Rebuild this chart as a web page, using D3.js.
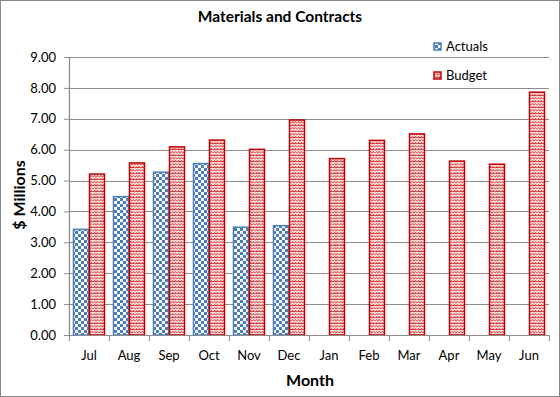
<!DOCTYPE html>
<html>
<head>
<meta charset="utf-8">
<script src="https://cdn.jsdelivr.net/npm/d3@7"></script>
<style>
  body { margin: 0; background: #fff; }
  text { font-family: Lato, "Open Sans", sans-serif; fill: #000; }
</style>
</head>
<body>
<div id="chart"></div>
<script>
const containerWidth = 560;
const containerHeight = 397;

// data
const months = ["Jul", "Aug", "Sep", "Oct", "Nov", "Dec", "Jan", "Feb", "Mar", "Apr", "May", "Jun"];
const actuals = [3.42, 4.48, 5.27, 5.55, 3.49, 3.54, null, null, null, null, null, null];
const budget = [5.21, 5.57, 6.09, 6.31, 6.01, 6.96, 5.71, 6.30, 6.51, 5.63, 5.53, 7.86];
const seriesNames = ["Actuals", "Budget"];
const yTicks = [0, 1, 2, 3, 4, 5, 6, 7, 8, 9];

const svg = d3.select("#chart")
  .append('svg')
  .attr('width', containerWidth)
  .attr('height', containerHeight);

// patterns
const defs = svg.append('defs');
const checker = defs.append('pattern')
  .attr('id', 'checker')
  .attr('width', 6).attr('height', 6)
  .attr('patternUnits', 'userSpaceOnUse');
checker.append('rect').attr('width', 6).attr('height', 6).attr('fill', '#fff');
checker.append('rect').attr('width', 3).attr('height', 3).attr('fill', '#4a7ebb');
checker.append('rect').attr('x', 3).attr('y', 3).attr('width', 3).attr('height', 3).attr('fill', '#4a7ebb');

const weave = defs.append('pattern')
  .attr('id', 'weave')
  .attr('width', 6).attr('height', 6)
  .attr('patternUnits', 'userSpaceOnUse');
weave.append('rect').attr('width', 6).attr('height', 6).attr('fill', '#d93a3a');
weave.append('path')
  .attr('d', 'M0,1.5 L1.5,0 L3,1.5 L4.5,0 L6,1.5 M0,4.5 L1.5,3 L3,4.5 L4.5,3 L6,4.5')
  .attr('stroke', '#fbe4e4').attr('stroke-width', 1.5).attr('fill', 'none');

// outer border
svg.append('rect')
  .attr('x', 0.5).attr('y', 0.5)
  .attr('width', containerWidth - 1).attr('height', containerHeight - 1)
  .attr('fill', 'none').attr('stroke', '#888');

const margin = {left: 69, right: 11, top: 57, bottom: 62};
const plotW = containerWidth - margin.left - margin.right;
const plotH = containerHeight - margin.top - margin.bottom;

const scaleX = d3.scaleBand().domain(months).range([margin.left, margin.left + plotW]);
const scaleInner = d3.scaleBand().domain(seriesNames)
  .range([0, scaleX.bandwidth()]).paddingOuter(0.25).paddingInner(0);
const scaleY = d3.scaleLinear().domain([0, 9]).range([margin.top + plotH, margin.top]);

// gridlines
svg.append('g')
  .selectAll('line')
  .data(yTicks.slice(1))
  .enter()
  .append('line')
  .attr('x1', margin.left).attr('x2', margin.left + plotW)
  .attr('y1', d => Math.round(scaleY(d)) + 0.5)
  .attr('y2', d => Math.round(scaleY(d)) + 0.5)
  .attr('stroke', '#8c8c8c').attr('stroke-width', 1.2);

// bars
const fills = {Actuals: 'url(#checker)', Budget: 'url(#weave)'};
const strokes = {Actuals: '#4a7ebb', Budget: '#c00000'};
const rows = [];
months.forEach((m, i) => {
  if (actuals[i] != null) rows.push({month: m, series: 'Actuals', value: actuals[i]});
  rows.push({month: m, series: 'Budget', value: budget[i]});
});

svg.append('g')
  .selectAll('rect')
  .data(rows)
  .enter()
  .append('rect')
  .attr('x', d => scaleX(d.month) + scaleInner(d.series) + 0.5)
  .attr('y', d => scaleY(d.value))
  .attr('width', scaleInner.bandwidth() - 1)
  .attr('height', d => scaleY(0) - scaleY(d.value))
  .attr('fill', d => fills[d.series])
  .attr('stroke', d => strokes[d.series])
  .attr('stroke-width', 1.5);

// axes
const yAxis = d3.axisLeft(scaleY).tickValues(yTicks).tickFormat(d3.format('.2f')).tickSize(5).tickPadding(8);
const gy = svg.append('g')
  .attr('transform', 'translate(' + margin.left + ',0)')
  .call(yAxis);
gy.select('.domain').attr('stroke', '#8c8c8c').attr('stroke-width', 1.2);
gy.selectAll('.tick line').attr('stroke', '#8c8c8c');
gy.selectAll('.tick text').style('font-size', '13px');

const gx = svg.append('g')
  .attr('transform', 'translate(0,' + (margin.top + plotH) + ')');
gx.append('line')
  .attr('x1', margin.left).attr('x2', margin.left + plotW)
  .attr('y1', 0.5).attr('y2', 0.5)
  .attr('stroke', '#8c8c8c').attr('stroke-width', 1.2);
gx.selectAll('.sep')
  .data(months.concat(['end']))
  .enter()
  .append('line')
  .attr('x1', (d, i) => Math.round(margin.left + i * scaleX.step()) + 0.5)
  .attr('x2', (d, i) => Math.round(margin.left + i * scaleX.step()) + 0.5)
  .attr('y1', 0).attr('y2', 6)
  .attr('stroke', '#8c8c8c');
gx.selectAll('.lbl')
  .data(months)
  .enter()
  .append('text')
  .attr('x', d => scaleX(d) + scaleX.bandwidth() / 2)
  .attr('y', 25)
  .attr('text-anchor', 'middle')
  .style('font-size', '13px')
  .text(d => d);

// titles
svg.append('text')
  .attr('x', 280).attr('y', 22)
  .attr('text-anchor', 'middle')
  .style('font-size', '15.5px').style('font-weight', 'bold')
  .text('Materials and Contracts');

svg.append('text')
  .attr('transform', 'translate(25,195) rotate(-90)')
  .attr('text-anchor', 'middle')
  .style('font-size', '16px').style('font-weight', 'bold')
  .text('$ Millions');

svg.append('text')
  .attr('x', 310).attr('y', 386)
  .attr('text-anchor', 'middle')
  .style('font-size', '16px').style('font-weight', 'bold')
  .text('Month');

// legend
const legend = svg.append('g');
seriesNames.forEach((s, i) => {
  const y = 46 + i * 29;
  legend.append('rect')
    .attr('x', 434).attr('y', y - 3)
    .attr('width', 7).attr('height', 7)
    .attr('fill', fills[s]).attr('stroke', strokes[s]).attr('stroke-width', 1.5);
  legend.append('text')
    .attr('x', 446).attr('y', y + 5)
    .style('font-size', '13px')
    .text(s);
});
</script>
</body>
</html>
